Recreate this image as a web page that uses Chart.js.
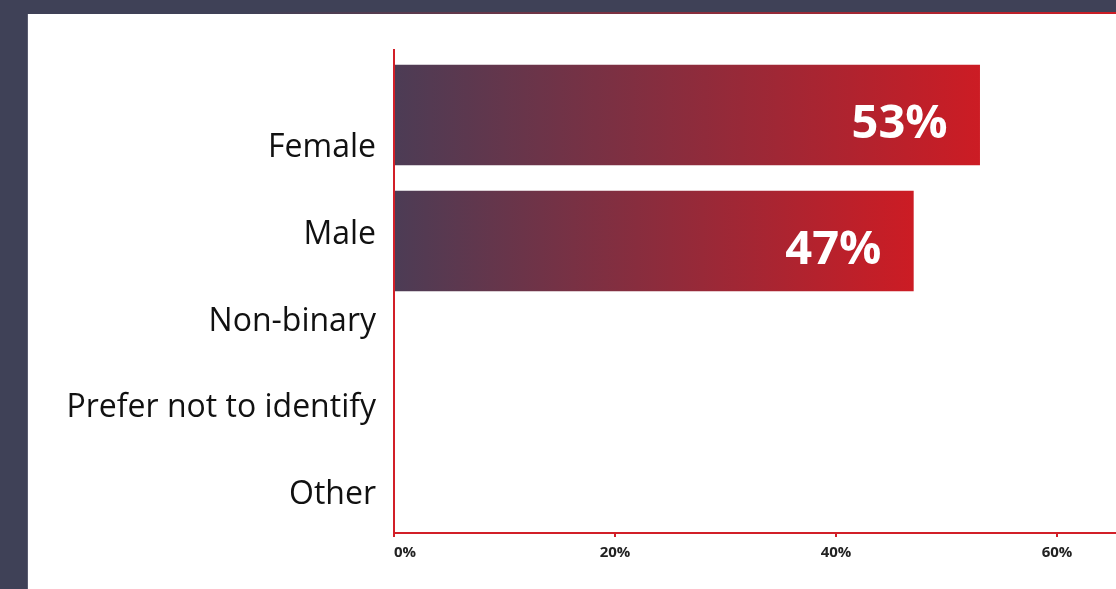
<!DOCTYPE html>
<html>
<head>
<meta charset="utf-8">
<title>Gender</title>
<script src="https://cdn.jsdelivr.net/npm/chart.js@4/dist/chart.umd.min.js"></script>
<style>
  html, body { margin: 0; padding: 0; width: 1116px; height: 589px; overflow: hidden; background: #3f4157; }
  .panel {
    position: absolute; left: 27px; top: 14px; right: 0; bottom: 0;
    background: #fff; border-left: 1px solid #5a5c70;
  }
  .panel-rule {
    position: absolute; left: 27px; top: 12px; right: 0; height: 2px;
    background: linear-gradient(90deg, #3f4157 0%, #3f4157 20%, #cc1c24 100%);
  }
  #chart { position: absolute; left: 0; top: 0; }
</style>
</head>
<body>
<div class="panel"></div>
<div class="panel-rule"></div>
<canvas id="chart" width="1300" height="589"></canvas>

<script>
/* ── Data ────────────────────────────────────────── */
const categories = ['Female', 'Male', 'Non-binary', 'Prefer not to identify', 'Other'];
const shares     = [53, 47, 0, 0, 0];
const xTicks     = [0, 20, 40, 60, 80];

/* ── Colours ─────────────────────────────────────── */
const RED   = '#d21f28';
const BAR_L = '#4c3c55';
const BAR_R = '#cc1c24';

/* ── Per-bar horizontal gradient (dark at base → red at tip) ── */
function barGradient(ctx) {
  const chart = ctx.chart;
  const xs = chart.scales.x;
  if (!xs || !chart.chartArea || ctx.raw == null) return BAR_R;
  const x0 = xs.getPixelForValue(0);
  const x1 = xs.getPixelForValue(ctx.raw.x);
  if (x1 - x0 < 1) return BAR_R;
  const g = chart.ctx.createLinearGradient(x0, 0, x1, 0);
  g.addColorStop(0, BAR_L);
  g.addColorStop(1, BAR_R);
  return g;
}

/* ── Value labels inside the bars ────────────────── */
const valueLabels = {
  id: 'valueLabels',
  afterDatasetsDraw(chart) {
    const { ctx } = chart;
    const meta = chart.getDatasetMeta(0);
    ctx.save();
    ctx.font = 'bold 47px "Open Sans"';
    ctx.fillStyle = '#fff';
    ctx.textAlign = 'right';
    ctx.textBaseline = 'middle';
    meta.data.forEach((bar, i) => {
      if (!shares[i]) return;
      ctx.fillText(shares[i] + '%', bar.x - 32, bar.y + 10);
    });
    ctx.restore();
  }
};

new Chart(document.getElementById('chart'), {
  type: 'bar',
  data: {
    datasets: [{
      data: categories.map((c, i) => ({ x: shares[i], y: i })),
      yAxisID: 'yb',
      backgroundColor: barGradient,
      borderWidth: 0,
      barThickness: 100,
    }]
  },
  options: {
    indexAxis: 'y',
    responsive: false,
    animation: false,
    layout: { padding: { top: 50, right: 22, left: 0, bottom: 0 } },
    plugins: { legend: { display: false }, tooltip: { enabled: false } },
    scales: {
      x: {
        type: 'linear',
        min: xTicks[0],
        max: xTicks[xTicks.length - 1],
        afterBuildTicks: (s) => { s.ticks = xTicks.map(v => ({ value: v })); },
        afterFit: (s) => { s.height = 56; },
        grid: { display: true, drawOnChartArea: false, drawTicks: true, tickLength: 4, color: RED, lineWidth: 2 },
        border: { display: true, color: RED, width: 2, z: 1 },
        ticks: {
          align: 'inner',
          padding: 7,
          color: '#222',
          font: { family: 'Open Sans', size: 15, weight: 'bold' },
          callback: (v) => v + '%',
        },
      },
      /* category labels on the left */
      y: {
        type: 'linear',
        position: 'left',
        reverse: true,
        offset: false,
        min: -1.123,
        max: 4.435,
        afterBuildTicks: (s) => { s.ticks = categories.map((c, i) => ({ value: i })); },
        afterFit: (s) => { s.width = 394; },
        grid: { display: false },
        border: { display: true, color: RED, width: 2, z: 1 },
        ticks: {
          padding: 10,
          color: '#111',
          font: { family: 'Open Sans', size: 32 },
          callback: (v) => categories[v],
        },
      },
      /* hidden axis the bars sit on */
      yb: {
        type: 'linear',
        position: 'left',
        reverse: true,
        offset: false,
        display: false,
        min: -0.516,
        max: 3.317,
      },
    }
  },
  plugins: [valueLabels]
});
</script>
</body>
</html>
